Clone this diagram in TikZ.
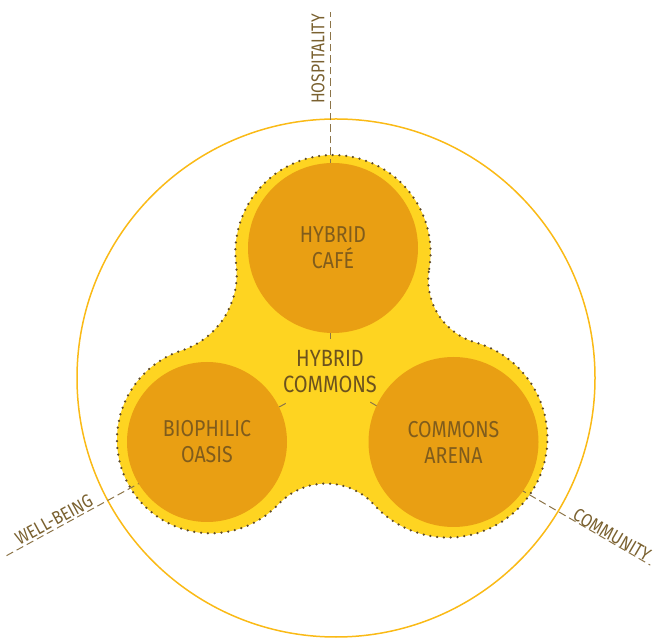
\documentclass[tikz,border=0pt]{standalone}
\usepackage{fontspec}
\setmainfont{Fira Sans}[FakeStretch=0.85]
\usetikzlibrary{calc}
\definecolor{orangeC}{RGB}{233,159,19}
\definecolor{yellowB}{RGB}{254,212,33}
\definecolor{ringC}{RGB}{250,186,22}
\definecolor{dotC}{RGB}{92,72,40}
\definecolor{circTxt}{RGB}{128,92,28}
\definecolor{hubTxt}{RGB}{108,82,30}
\definecolor{lblTxt}{RGB}{122,97,48}
\definecolor{dashC}{RGB}{140,116,72}
\begin{document}
\begin{tikzpicture}[x=1pt,y=1pt,
  core/.style={circle, fill=orangeC, inner sep=0pt, text=circTxt,
    font=\fontsize{23}{26}\selectfont, align=center},
  hubtext/.style={text=hubTxt, font=\fontsize{23.5}{26}\selectfont, align=center, inner sep=0pt},
  spoke/.style={draw=dashC, line width=1pt, dash pattern=on 7.5pt off 4pt},
  lbl/.style={text=lblTxt, font=\fontsize{18.5}{20}\selectfont, inner sep=0pt},
  blob/.style={fill=yellowB, draw=dotC, line width=2.5pt, line cap=round,
    dash pattern=on 0pt off 6.8pt},
  ring/.style={draw=ringC, line width=1.5pt}
]
\useasboundingbox (0,0) rectangle (653,637);
% outer ring
\draw[ring] (336,259) circle[radius=259];
% yellow blob with dotted outline
\path[blob] (429.2,368.1)
  arc[start angle=-9.6, end angle=187.1, radius=97.6]
  arc[start angle=7.04, end angle=-71.9, radius=80]
  arc[start angle=108.1, end angle=316.6, radius=93.7]
  arc[start angle=136.7, end angle=42.2, radius=65]
  arc[start angle=222.2, end angle=434.0, radius=99.5]
  arc[start angle=254.0, end angle=170.35, radius=65]
  -- cycle;
% spokes
\coordinate (hub) at (330.5,258);
\coordinate (topIn) at ([shift={(90:40)}]hub);
\coordinate (topOut) at ([shift={(90:367)}]hub);
\coordinate (leftIn) at ([shift={(208.6:51)}]hub);
\coordinate (leftOut) at ([shift={(208.6:370)}]hub);
\coordinate (rightIn) at ([shift={(-30.2:46)}]hub);
\coordinate (rightOut) at ([shift={(-30.2:370)}]hub);
\draw[spoke] (topIn) -- (topOut);
\draw[spoke] (leftIn) -- (leftOut);
\draw[spoke] (rightIn) -- (rightOut);
% circles
\node[core, minimum size=170pt] (cafe) at (333,389) {HYBRID\\CAFÉ};
\node[core, minimum size=160pt] (oasis) at (207,195) {BIOPHILIC\\OASIS};
\node[core, minimum size=170pt] (arena) at (453.5,195) {COMMONS\\ARENA};
\node[hubtext] (commons) at (330,265) {HYBRID\\COMMONS};
% labels
\node[lbl, rotate=90] (hosp) at (318,578) {HOSPITALITY};
\node[lbl, rotate=28.6] (well) at (54,117) {WELL-BEING};
\node[lbl, rotate=-30.2] (comm) at (612,102) {COMMUNITY};
\end{tikzpicture}
\end{document}
